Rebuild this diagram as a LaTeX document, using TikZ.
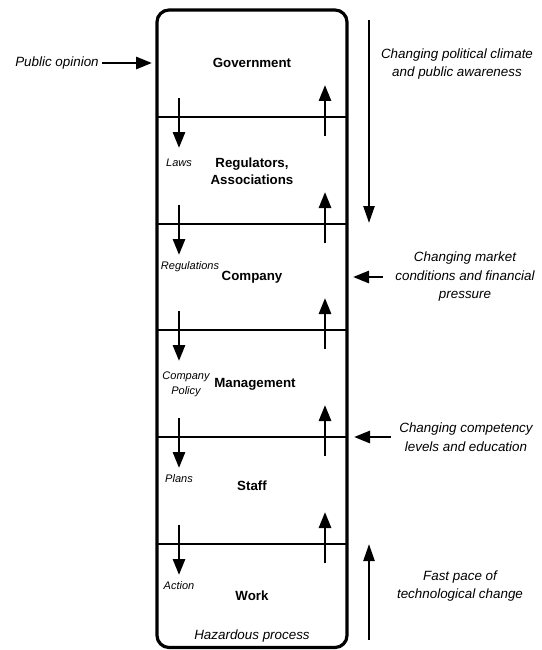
\documentclass[tikz,border=0pt]{standalone}
\usepackage{fontspec}
\setmainfont{Liberation Sans}
\usetikzlibrary{arrows.meta}

\begin{document}
\begin{tikzpicture}[x=1pt, y=-1pt,
        flow/.style={line width=2.8pt, -{Triangle[length=16pt, width=12pt]}},
        drift/.style={line width=2.4pt, -{Triangle[length=17pt, width=11pt]}},
        layer/.style={font=\bfseries\fontsize{13.3}{17}\selectfont, align=center},
        note/.style={font=\itshape\fontsize{13.4}{18.5}\selectfont, align=center},
        tag/.style={font=\itshape\fontsize{11}{15}\selectfont, align=center}]
        \useasboundingbox (0,0) rectangle (541,650);
        \draw [line width=3.2pt, rounded corners=12pt] (157,10) rectangle (347,647.5);
        \foreach \y/\lvl in {117/1,224/2,330/3,437/4,544/5} {
            \draw [line width=2.8pt] (157,\y) -- (347,\y);
            \coordinate (dn\lvl) at (179,\y-19);
            \coordinate (dt\lvl) at (179,\y+31);
            \coordinate (un\lvl) at (325,\y+19);
            \coordinate (ut\lvl) at (325,\y-32);
            \draw [flow] (dn\lvl) -- (dt\lvl);
            \draw [flow] (un\lvl) -- (ut\lvl);
        }
        \node [layer] (gov) at (252,63) {Government};
        \node [layer] (reg) at (252,171) {Regulators,\\Associations};
        \node [layer] (comp) at (252,277) {Company};
        \node [layer] (mgmt) at (255,384) {Management};
        \node [layer] (staff) at (252,486) {Staff};
        \node [layer] (work) at (252,596) {Work};
        \node [note] (haz) at (252,636) {Hazardous process};
        \node [tag] (laws) at (179,163) {Laws};
        \node [tag] (regs) at (190,267) {Regulations};
        \node [tag] (policy) at (186,384) {Company\\Policy};
        \node [tag] (plans) at (179,479) {Plans};
        \node [tag] (action) at (179,586) {Action};
        % outside pressures
        \node [note] (opinion) at (57,63) {Public opinion};
        \coordinate (govin) at (152,63);
        \draw [flow] (opinion) -- (govin);
        \node [note] (climate) at (457,64) {Changing political climate\\and public awareness};
        \coordinate (clima) at (369,20);
        \coordinate (climb) at (369,223);
        \draw [drift] (clima) -- (climb);
        \node [note] (market) at (465,277) {Changing market\\conditions and financial\\pressure};
        \coordinate (compin) at (353,277);
        \draw [flow, shorten <=9pt] (market.west) -- (compin);
        \node [note] (skills) at (466,437) {Changing competency\\levels and education};
        \coordinate (staffin) at (354,437);
        \draw [flow, shorten <=5pt] (skills.west) -- (staffin);
        \node [note] (tech) at (460,586) {Fast pace of\\technological change};
        \coordinate (techa) at (369,640);
        \coordinate (techb) at (369,544);
        \draw [drift] (techa) -- (techb);
\end{tikzpicture}
\end{document}
